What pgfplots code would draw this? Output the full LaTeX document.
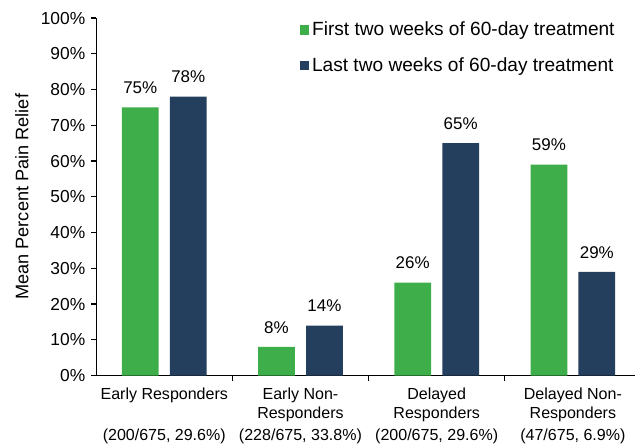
\documentclass[border=0pt]{standalone}
\usepackage{pgfplots}
\pgfplotsset{compat=1.18}
\usepackage{fontspec}
\setmainfont{Liberation Sans}
\definecolor{bargreen}{RGB}{61,174,73}
\definecolor{barnavy}{RGB}{36,63,94}
\begin{document}
\fontsize{12}{14}\selectfont
\begin{tikzpicture}
\begin{axis}[
  scale only axis,
  width=403.5pt, height=267.75pt,
  xmin=-0.5, xmax=3.456,
  ymin=0, ymax=100,
  axis x line*=bottom, axis y line*=left,
  axis line style={line width=0.9pt, -},
  tick align=outside,
  major tick length=4pt,
  minor tick length=4pt,
  tick style={black, line width=0.9pt},
  xtick={0,1,2,3},
  major x tick style={draw=none},
  minor xtick={0.5,1.5,2.5},
  xticklabels={
    {Early Responders\\ \\[2pt](200/675, 29.6\%)},
    {Early Non-\\Responders\\[2pt](228/675, 33.8\%)},
    {Delayed\\Responders\\[2pt](200/675, 29.6\%)},
    {Delayed Non-\\Responders\\[2pt](47/675, 6.9\%)}},
  xticklabel style={align=center, font=\fontsize{12}{14.5}\selectfont, yshift=-1pt},
  ytick={0,10,...,100},
  yticklabel={\pgfmathprintnumber{\tick}\%},
  yticklabel style={font=\fontsize{13}{15}\selectfont},
  /pgf/number format/assume math mode=true,
  ylabel={Mean Percent Pain Relief},
  ylabel style={font=\fontsize{13.6}{15}\selectfont, yshift=1pt},
  ybar, bar width=0.27,
  nodes near coords={\pgfmathprintnumber{\pgfplotspointmeta}\%},
  nodes near coords style={font=\fontsize{12.7}{14}\selectfont, yshift=6pt, /pgf/number format/assume math mode=true},
  legend style={draw=none, fill=none, at={(0.975,1.005)}, anchor=north east,
    font=\fontsize{14.3}{16}\selectfont, row sep=10.5pt, cells={anchor=west}},
  legend image code/.code={\fill[#1] (0pt,-3.6pt) rectangle (7.2pt,3.6pt);},
]
\addplot[fill=bargreen, draw=none, bar shift=-0.176] coordinates {(0,75) (1,8) (2,26) (3,59)};
\addplot[fill=barnavy, draw=none, bar shift=0.176] coordinates {(0,78) (1,14) (2,65) (3,29)};
\legend{First two weeks of 60-day treatment, Last two weeks of 60-day treatment}
\end{axis}
\pgfresetboundingbox
\useasboundingbox ([xshift=-72pt,yshift=-51pt]current axis.south west) rectangle ([yshift=13.5pt]current axis.north east);
\end{tikzpicture}
\end{document}
